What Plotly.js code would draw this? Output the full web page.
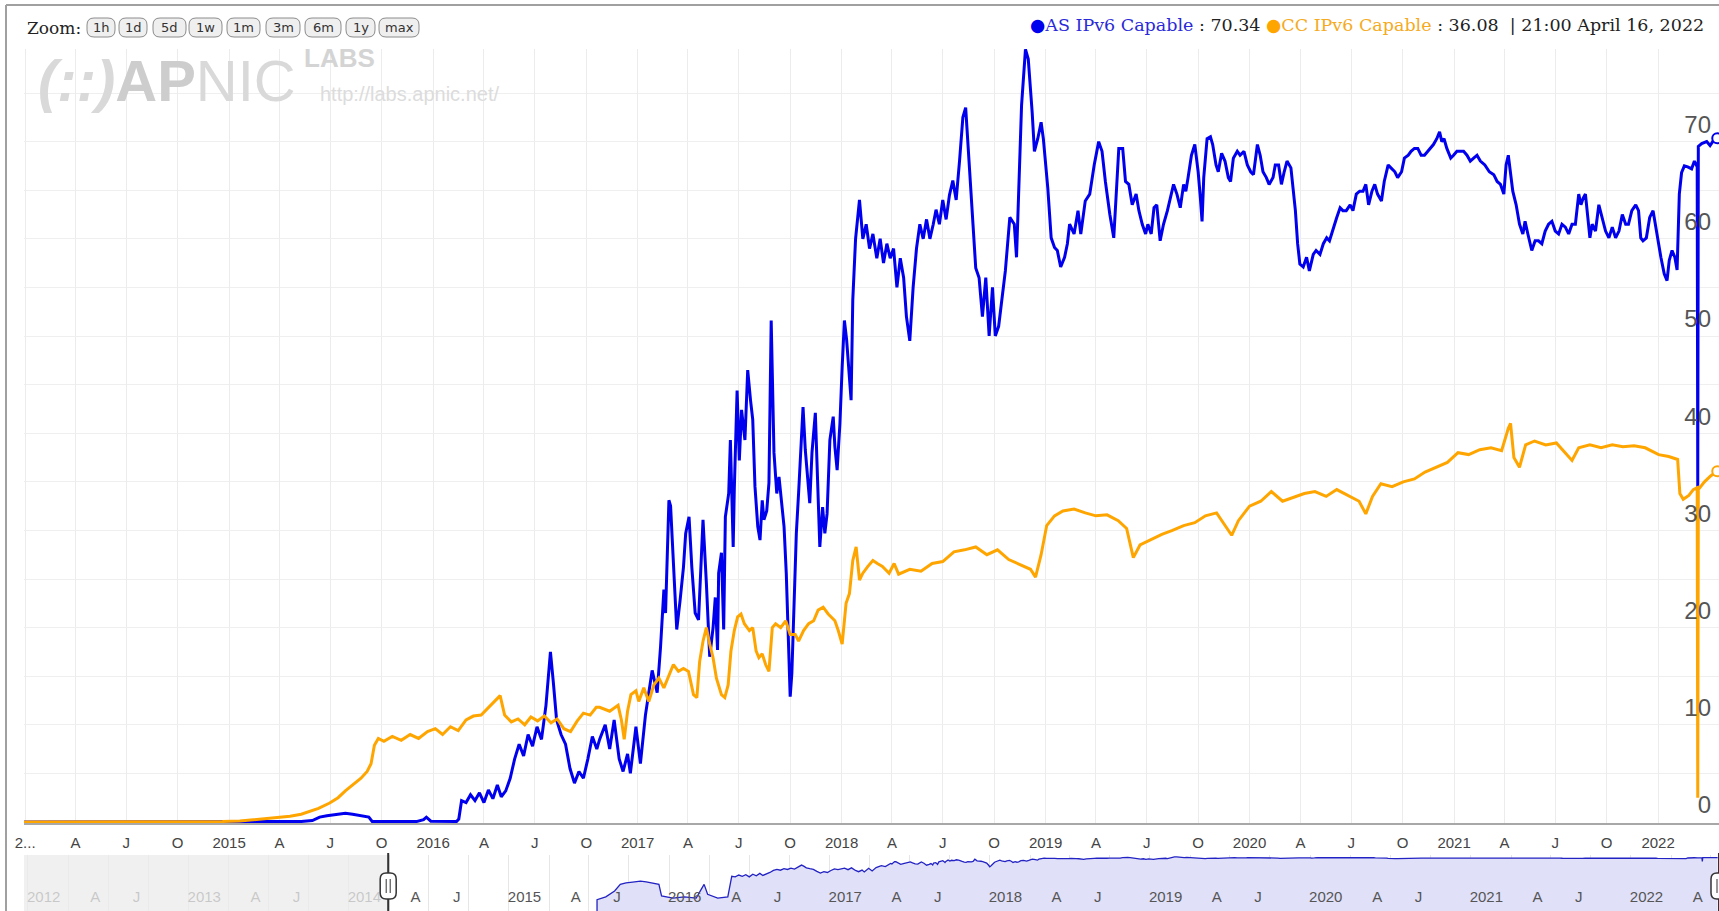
<!DOCTYPE html>
<html><head><meta charset="utf-8">
<script src="https://cdn.plot.ly/plotly-3.0.1.min.js"></script>
<style>html,body{margin:0;padding:0;background:#fff;overflow:hidden}#chart{width:1719px;height:911px}</style>
</head><body><div id="chart"></div>
<script>
// ---------------- data ----------------
const asDates = [
'2013-12-20','2015-04-15','2015-04-20','2015-05-10','2015-05-30','2015-06-12','2015-06-25','2015-07-10','2015-07-28','2015-08-10',
'2015-08-26','2015-09-08','2015-09-14','2015-10-10','2015-11-05','2015-12-02','2015-12-15','2015-12-20','2015-12-28','2016-01-20',
'2016-02-12','2016-02-16','2016-02-21','2016-02-29','2016-03-08','2016-03-16','2016-03-24','2016-04-01','2016-04-09','2016-04-17',
'2016-04-25','2016-05-02','2016-05-10','2016-05-18','2016-05-26','2016-06-03','2016-06-11','2016-06-19','2016-06-27','2016-07-05',
'2016-07-13','2016-07-21','2016-07-29','2016-08-03','2016-08-09','2016-08-17','2016-08-25','2016-09-02','2016-09-10','2016-09-18',
'2016-09-26','2016-10-04','2016-10-12','2016-10-20','2016-10-25','2016-11-04','2016-11-12','2016-11-20','2016-11-29','2016-12-06',
'2016-12-14','2016-12-19','2016-12-29','2017-01-06','2017-01-15','2017-01-27','2017-02-05','2017-02-11','2017-02-17','2017-02-20',
'2017-02-26','2017-03-01','2017-03-06','2017-03-12','2017-03-18','2017-03-24','2017-03-28','2017-04-03','2017-04-08','2017-04-14',
'2017-04-20','2017-04-28','2017-05-04','2017-05-10','2017-05-16','2017-05-20','2017-05-24','2017-05-26','2017-05-31','2017-06-04',
'2017-06-07','2017-06-13','2017-06-16','2017-06-19','2017-06-21','2017-06-23','2017-06-28','2017-07-02','2017-07-06','2017-07-12',
'2017-07-17','2017-07-22','2017-07-26','2017-07-30','2017-08-04','2017-08-08','2017-08-12','2017-08-15','2017-08-20','2017-08-24',
'2017-08-28','2017-09-02','2017-09-07','2017-09-11','2017-09-15','2017-09-20','2017-09-24','2017-09-28','2017-10-01','2017-10-04',
'2017-10-08','2017-10-12','2017-10-16','2017-10-20','2017-10-24','2017-10-28','2017-11-01','2017-11-05','2017-11-09','2017-11-15',
'2017-11-19','2017-11-23','2017-11-28','2017-12-02','2017-12-06','2017-12-11','2017-12-17','2017-12-20','2017-12-24','2017-12-29',
'2018-01-02','2018-01-06','2018-01-10','2018-01-15','2018-01-18','2018-01-21','2018-01-26','2018-02-02','2018-02-08','2018-02-14',
'2018-02-20','2018-02-26','2018-03-05','2018-03-11','2018-03-17','2018-03-23','2018-03-29','2018-04-04','2018-04-10','2018-04-16',
'2018-04-22','2018-04-27','2018-05-03','2018-05-09','2018-05-15','2018-05-21','2018-05-27','2018-06-02','2018-06-08','2018-06-14',
'2018-06-19','2018-06-25','2018-07-01','2018-07-07','2018-07-13','2018-07-19','2018-07-25','2018-07-31','2018-08-06','2018-08-11',
'2018-08-17','2018-08-23','2018-08-29','2018-09-04','2018-09-10','2018-09-16','2018-09-22','2018-09-28','2018-10-03','2018-10-09',
'2018-10-21','2018-10-29','2018-11-06','2018-11-10','2018-11-14','2018-11-19','2018-11-26','2018-12-01','2018-12-08','2018-12-12',
'2018-12-18','2018-12-24','2018-12-28','2019-01-05','2019-01-11','2019-01-17','2019-01-22','2019-01-28','2019-02-04','2019-02-09',
'2019-02-13','2019-02-21','2019-02-28','2019-03-05','2019-03-13','2019-03-21','2019-03-29','2019-04-06','2019-04-12','2019-04-18',
'2019-04-26','2019-05-03','2019-05-08','2019-05-12','2019-05-19','2019-05-24','2019-05-30','2019-06-05','2019-06-12','2019-06-17',
'2019-06-23','2019-06-29','2019-07-03','2019-07-09','2019-07-14','2019-07-19','2019-07-25','2019-07-31','2019-08-07','2019-08-12',
'2019-08-18','2019-08-24','2019-08-30','2019-09-05','2019-09-09','2019-09-13','2019-09-19','2019-09-25','2019-10-01','2019-10-05',
'2019-10-08','2019-10-11','2019-10-17','2019-10-23','2019-10-27','2019-11-02','2019-11-06','2019-11-12','2019-11-18','2019-11-24',
'2019-11-28','2019-12-03','2019-12-10','2019-12-15','2019-12-22','2019-12-28','2020-01-03','2020-01-08','2020-01-15','2020-01-20',
'2020-01-25','2020-01-31','2020-02-05','2020-02-12','2020-02-16','2020-02-22','2020-02-27','2020-03-03','2020-03-08','2020-03-15',
'2020-03-19','2020-03-23','2020-03-27','2020-03-31','2020-04-06','2020-04-12','2020-04-17','2020-04-24','2020-04-29','2020-05-06',
'2020-05-12','2020-05-18','2020-05-23','2020-05-30','2020-06-05','2020-06-11','2020-06-16','2020-06-22','2020-06-29','2020-07-04',
'2020-07-10','2020-07-16','2020-07-22','2020-07-27','2020-08-01','2020-08-07','2020-08-12','2020-08-17','2020-08-24','2020-08-29',
'2020-09-05','2020-09-10','2020-09-17','2020-09-22','2020-09-29','2020-10-04','2020-10-11','2020-10-16','2020-10-22','2020-10-28',
'2020-11-03','2020-11-09','2020-11-15','2020-11-20','2020-11-25','2020-12-01','2020-12-06','2020-12-10','2020-12-14','2020-12-19',
'2020-12-26','2020-12-31','2021-01-06','2021-01-12','2021-01-18','2021-01-24','2021-01-30','2021-02-05','2021-02-11','2021-02-17',
'2021-02-25','2021-03-05','2021-03-13','2021-03-19','2021-03-25','2021-03-31','2021-04-04','2021-04-08','2021-04-12','2021-04-16',
'2021-04-22','2021-04-28','2021-05-04','2021-05-08','2021-05-13','2021-05-20','2021-05-26','2021-06-01','2021-06-07','2021-06-13',
'2021-06-19','2021-06-25','2021-07-01','2021-07-07','2021-07-13','2021-07-19','2021-07-25','2021-07-31','2021-08-06','2021-08-12',
'2021-08-16','2021-08-20','2021-08-24','2021-08-28','2021-09-01','2021-09-05','2021-09-11','2021-09-17','2021-09-23','2021-09-29',
'2021-10-05','2021-10-11','2021-10-17','2021-10-23','2021-10-29','2021-11-04','2021-11-09','2021-11-15','2021-11-22','2021-11-27',
'2021-12-01','2021-12-05','2021-12-11','2021-12-17','2021-12-23','2021-12-27','2022-01-01','2022-01-06','2022-01-12','2022-01-17',
'2022-01-21','2022-01-26','2022-01-31','2022-02-04','2022-02-08','2022-02-12','2022-02-17','2022-02-23','2022-03-02','2022-03-07',
'2022-03-12','2022-03-13','2022-03-14','2022-03-20','2022-03-29','2022-04-04','2022-04-10','2022-04-16 21:00'
];
const asValues = [
0,0,0.03,0.05,0.15,0.5,0.65,0.75,0.9,0.8,
0.6,0.5,0.06,0.04,0.05,0.04,0.25,0.5,0.08,0.04,
0.05,0.3,2.2,2.0,2.8,2.2,3.0,2.0,3.3,2.4,
3.8,2.6,3.2,4.5,6.5,8.0,6.8,9.0,7.8,9.8,
8.5,12.0,17.5,14.5,10.5,9.0,8.0,5.5,4.0,5.2,
4.5,6.5,8.8,7.5,8.5,10.0,7.5,10.5,6.5,5.2,
7.0,5.0,9.8,6.0,11,15.6,13.3,18,23.9,21.5,
33.1,32.5,26.2,19.8,22.8,26.2,29.7,31.4,26.2,21.5,
20.8,31.1,24.6,17,20,23.1,17.7,25.6,27.7,19.8,
31.4,33.8,39.3,33.1,28.3,34.2,44.4,37.2,42.4,39.3,
46.5,43.4,41.4,34.5,30.4,29,33.1,31.1,32,34.9,
51.6,38,33.8,35.5,33.1,30.4,25.6,17.7,12.9,15.3,
22.8,29.7,33.8,39,42.7,38.3,35.2,32.8,38,42.1,
35.2,28.3,32.4,29.7,31.7,39.3,41.7,38.6,36.2,41,
46.8,51.6,49.6,45.8,43.4,53.7,60,64,60,61.5,
59,60.5,58,60,57.5,59.5,58,59,55,58,
56,52,49.5,55,59,61.5,60,62,60,61.5,
63,61.5,64,62,64.5,66,64,68,72.5,73.5,
68,62,57,56,52,56,50,55,50,51,
56.7,62.2,61.5,58.1,64.2,73.7,79.5,78.5,73,69,
70.3,72,70.3,65.2,60.1,59.1,58.8,57.1,58.1,59.5,
61.5,60.5,62.9,60.5,63.9,64.6,67.6,70,69,65.9,
62.5,60.1,65.2,69.3,69.3,65.9,65.6,63.5,64.6,62.9,
61.5,60.5,61.5,60.5,63.2,63.5,59.8,61.5,62.9,64.2,
65.6,64.6,63.2,65.6,64.9,66.3,68.6,69.7,66.9,64.2,
61.8,66.3,70.3,70.5,69.7,67.6,66.9,68.8,68,66.3,
65.9,68.3,69,68.6,69,67.6,66.9,66.6,69.7,68.6,
66.9,66.3,65.6,66.3,67.6,67.6,65.6,66.9,68,67.3,
65.2,62.9,59.5,57.4,57.1,58.1,56.7,58.4,58.8,58.4,
59.5,60.1,59.8,61.2,62.2,63.2,62.9,62.9,63.5,62.9,
64.6,64.9,64.9,65.6,63.5,64.9,65.6,64.6,63.9,65.9,
67.6,67.3,66.9,66.3,66.9,68.3,68.6,69,69.3,69.3,
68.6,68.6,69,69.3,69.7,70.3,71,70,70.3,69.3,
68.3,68.6,69,69,69,68.6,68,68.3,68.6,68,
67.6,66.9,66.6,65.9,65.6,64.6,67.6,68.6,66.9,64.9,
63.5,61.5,60.5,61.8,60.5,58.8,59.8,59.8,59.5,60.8,
61.5,61.8,60.8,60.5,61.5,61.2,60.5,61.5,61.5,64.6,
63.5,64.2,64.6,62.5,60.1,61.5,60.8,63.5,62.2,60.8,
60.1,61.2,60.1,60.8,62.5,61.5,61.5,62.9,63.5,62.9,
60.1,59.8,60.1,62.2,62.9,61.5,59.5,58.1,56.4,55.7,
57.8,58.8,58.1,56.8,64.6,66.8,67.5,67.4,67.2,68,
67.4,34.5,69.5,69.8,70,69.6,70.1,70.34
];
const ccDates = [
'2013-12-20','2014-11-25','2014-12-20','2015-01-20','2015-02-20','2015-03-20','2015-04-20','2015-05-10','2015-05-25','2015-06-10',
'2015-06-30','2015-07-15','2015-07-28','2015-08-10','2015-08-25','2015-09-05','2015-09-12','2015-09-18','2015-09-25','2015-10-05',
'2015-10-20','2015-11-05','2015-11-21','2015-12-06','2015-12-22','2016-01-05','2016-01-18','2016-02-01','2016-02-15','2016-02-29',
'2016-03-13','2016-03-27','2016-04-10','2016-04-22','2016-04-30','2016-05-08','2016-05-20','2016-06-01','2016-06-13','2016-06-24',
'2016-07-06','2016-07-18','2016-07-30','2016-08-10','2016-08-22','2016-09-03','2016-09-15','2016-09-26','2016-10-08','2016-10-19',
'2016-10-25','2016-11-12','2016-11-27','2016-12-03','2016-12-08','2016-12-14','2016-12-20','2016-12-29','2017-01-03','2017-01-12',
'2017-01-21','2017-01-30','2017-02-08','2017-02-17','2017-02-26','2017-03-06','2017-03-15','2017-03-24','2017-04-02','2017-04-11',
'2017-04-17','2017-04-22','2017-04-28','2017-05-04','2017-05-10','2017-05-16','2017-05-22','2017-05-31','2017-06-06','2017-06-12',
'2017-06-17','2017-06-23','2017-06-29','2017-07-05','2017-07-11','2017-07-20','2017-07-26','2017-08-01','2017-08-06','2017-08-12',
'2017-08-18','2017-08-24','2017-08-30','2017-09-05','2017-09-14','2017-09-23','2017-10-01','2017-10-10','2017-10-16','2017-10-25',
'2017-11-03','2017-11-12','2017-11-20','2017-11-29','2017-12-08','2017-12-14','2017-12-20','2017-12-26','2018-01-02','2018-01-09',
'2018-01-15','2018-01-21','2018-01-27','2018-02-02','2018-02-08','2018-02-17','2018-02-26','2018-03-06','2018-03-15','2018-03-27',
'2018-04-05','2018-04-13','2018-05-03','2018-05-23','2018-06-12','2018-07-01','2018-07-21','2018-08-09','2018-08-29','2018-09-18',
'2018-10-07','2018-10-27','2018-11-15','2018-12-05','2018-12-14','2018-12-24','2019-01-03','2019-01-17','2019-02-01','2019-02-21',
'2019-03-13','2019-04-01','2019-04-21','2019-05-11','2019-05-26','2019-06-07','2019-06-19','2019-07-08','2019-07-28','2019-08-16',
'2019-09-05','2019-09-25','2019-10-14','2019-11-03','2019-11-18','2019-11-30','2019-12-12','2020-01-01','2020-01-21','2020-02-09',
'2020-02-29','2020-03-19','2020-04-08','2020-04-27','2020-05-17','2020-06-05','2020-06-25','2020-07-15','2020-07-27','2020-08-08',
'2020-08-23','2020-09-12','2020-10-02','2020-10-22','2020-11-10','2020-11-30','2020-12-20','2021-01-08','2021-01-27','2021-02-16',
'2021-03-08','2021-03-27','2021-04-08','2021-04-12','2021-04-18','2021-04-28','2021-05-09','2021-05-25','2021-06-14','2021-07-03',
'2021-07-19','2021-07-31','2021-08-12','2021-09-01','2021-09-21','2021-10-11','2021-10-30','2021-11-19','2021-12-09','2021-12-25',
'2022-01-02','2022-01-20','2022-02-05','2022-02-09','2022-02-15','2022-02-25','2022-03-05','2022-03-12','2022-03-13','2022-03-14',
'2022-03-25','2022-04-05','2022-04-16 21:00'
];
const ccValues = [
0,0,0.05,0.1,0.25,0.4,0.6,0.8,1.1,1.4,
1.95,2.5,3.2,3.8,4.5,5.2,6.0,7.9,8.6,8.3,
8.8,8.4,9.0,8.6,9.3,9.6,9.0,9.8,9.4,10.5,
10.9,11.0,11.8,12.5,13.0,11.0,10.3,10.6,10.0,10.8,
10.4,10.9,10.2,10.6,9.6,9.3,10.4,11.2,11.0,11.8,
11.8,11.4,12.0,10.5,8.5,11.4,13.1,13.5,12.4,13.8,
12.4,14.1,14.8,13.8,15.1,16.2,15.5,15.8,15.5,13.1,
12.8,16.5,18.6,20.0,18.3,16.9,14.8,13.1,12.8,14.1,
17.6,19.7,21.1,21.4,20.4,19.7,20.0,17.6,16.9,17.3,
16.2,15.5,20.0,20.4,20.0,20.7,19.3,19.3,18.6,19.7,
20.4,20.7,21.8,22.1,21.4,21.1,20.7,19.7,18.3,22.5,
23.5,26.9,28.3,24.9,25.6,26.3,26.9,26.6,26.3,25.6,
26.6,25.5,26.0,25.8,26.6,26.8,27.8,28.0,28.3,27.5,
28.0,27.0,26.5,26.0,25.2,27.5,30.5,31.5,32.0,32.2,
31.8,31.5,31.6,31.0,30.2,27.2,28.5,29.0,29.6,30.0,
30.5,30.8,31.5,31.8,30.5,29.5,31.0,32.5,33.0,34.0,
33.0,33.4,33.8,34.0,33.5,34.2,33.6,33.0,31.7,33.5,
34.8,34.5,35.0,35.3,36.0,36.5,37.0,38.0,37.8,38.3,
38.5,38.2,40.5,41.0,37.5,36.5,38.8,39.2,38.8,39.0,
38.0,37.2,38.5,38.8,38.5,38.8,38.6,38.7,38.5,38.0,
37.8,37.6,37.3,33.8,33.2,33.6,34.2,34.4,2.5,34.2,
35.0,35.6,36.08
];
const lastStampLabel = '21:00 April 16, 2022';

// ---------------- axes / ticks ----------------
const mainRange = ['2013-12-30', '2022-04-20'];
const navRange = ['2011-09-22', '2022-04-20'];
const mainTickDates = [
'2014-01-01','2014-04-01','2014-07-01','2014-10-01','2015-01-01','2015-04-01','2015-07-01','2015-10-01',
'2016-01-01','2016-04-01','2016-07-01','2016-10-01','2017-01-01','2017-04-01','2017-07-01','2017-10-01',
'2018-01-01','2018-04-01','2018-07-01','2018-10-01','2019-01-01','2019-04-01','2019-07-01','2019-10-01',
'2020-01-01','2020-04-01','2020-07-01','2020-10-01','2021-01-01','2021-04-01','2021-07-01','2021-10-01','2022-01-01'];
const mainTickText = [
'2...','A','J','O','2015','A','J','O','2016','A','J','O','2017','A','J','O',
'2018','A','J','O','2019','A','J','O','2020','A','J','O','2021','A','J','O','2022'];
const mainYearDates = ['2014-01-01','2015-01-01','2016-01-01','2017-01-01','2018-01-01','2019-01-01','2020-01-01','2021-01-01','2022-01-01'];
const navTickDates = [
'2011-10-01','2012-01-01','2012-04-01','2012-07-01','2012-10-01','2013-01-01','2013-04-01','2013-07-01','2013-10-01',
'2014-01-01','2014-04-01','2014-07-01','2014-10-01','2015-01-01','2015-04-01','2015-07-01','2015-10-01',
'2016-01-01','2016-04-01','2016-07-01','2016-10-01','2017-01-01','2017-04-01','2017-07-01','2017-10-01',
'2018-01-01','2018-04-01','2018-07-01','2018-10-01','2019-01-01','2019-04-01','2019-07-01','2019-10-01',
'2020-01-01','2020-04-01','2020-07-01','2020-10-01','2021-01-01','2021-04-01','2021-07-01','2021-10-01',
'2022-01-01','2022-04-01'];
const navTickText = [
'','2012','A','J','','2013','A','J','','2014','A','J','','2015','A','J','',
'2016','A','J','','2017','A','J','','2018','A','J','','2019','A','J','',
'2020','A','J','','2021','A','J','','2022','A'];
const navYearDates = ['2012-01-01','2013-01-01','2014-01-01','2015-01-01','2016-01-01','2017-01-01','2018-01-01','2019-01-01','2020-01-01','2021-01-01','2022-01-01'];
const yTickValues = [0, 10, 20, 30, 40, 50, 60, 70];
const yMinorValues = [5, 15, 25, 35, 45, 55, 65, 75];
const yTickText = ['0', '10', '20', '30', '40', '50', '60', '70'];
const zoomLabels = ['1h', '1d', '5d', '1w', '1m', '3m', '6m', '1y', 'max'];

// ---------------- styling helpers ----------------
const W = 1719, H = 911;
const px = v => v / W;
const py = v => 1 - v / H;
const BLUE = '#0000ee', ORANGE = '#ffa500';
const SANS = 'Liberation Sans, Arial, sans-serif';
const SERIF = 'DejaVu Serif, serif';
function roundRect(w, h, r) {
  const a = w / 2, b = h / 2;
  return `M ${-a + r},${-b} L ${a - r},${-b} Q ${a},${-b} ${a},${-b + r} L ${a},${b - r} Q ${a},${b} ${a - r},${b} ` +
         `L ${-a + r},${b} Q ${-a},${b} ${-a},${b - r} L ${-a},${-b + r} Q ${-a},${-b} ${-a + r},${-b} Z`;
}
const btnCenters = [101, 133, 169.5, 205.5, 243.5, 283, 323, 360.5, 399];
const btnWidths = [28, 28, 33, 33, 33, 34, 36, 29, 40];
const btnY = 27.5, btnH = 19;

const lastAs = asValues[asValues.length - 1];
const lastCc = ccValues[ccValues.length - 1];

// ---------------- traces ----------------
const traces = [
  { x: asDates, y: asValues, type: 'scatter', mode: 'lines', xaxis: 'x', yaxis: 'y',
    line: { color: BLUE, width: 3 }, hoverinfo: 'x+y', name: 'AS IPv6 Capable' },
  { x: ccDates, y: ccValues, type: 'scatter', mode: 'lines', xaxis: 'x', yaxis: 'y',
    line: { color: ORANGE, width: 3 }, hoverinfo: 'x+y', name: 'CC IPv6 Capable' },
  { x: [asDates[asDates.length - 1]], y: [lastAs], type: 'scatter', mode: 'markers', xaxis: 'x', yaxis: 'y',
    marker: { color: '#ffffff', size: 10, line: { color: BLUE, width: 2 } }, cliponaxis: false, hoverinfo: 'skip' },
  { x: [ccDates[ccDates.length - 1]], y: [lastCc], type: 'scatter', mode: 'markers', xaxis: 'x', yaxis: 'y',
    marker: { color: '#ffffff', size: 10, line: { color: ORANGE, width: 2 } }, cliponaxis: false, hoverinfo: 'skip' },
  { x: asDates, y: asValues, type: 'scatter', mode: 'lines', xaxis: 'x2', yaxis: 'y2',
    line: { color: '#2323c4', width: 1.3 }, fill: 'tozeroy', fillcolor: '#e0e0f8', hoverinfo: 'skip' }
];

// ---------------- shapes ----------------
const shapes = [];
shapes.push({ type: 'line', xref: 'paper', yref: 'paper', x0: px(6), x1: px(6), y0: 0, y1: py(5), line: { color: '#a0a0a0', width: 2 } });
shapes.push({ type: 'line', xref: 'paper', yref: 'paper', x0: px(6), x1: 1, y0: py(5), y1: py(5), line: { color: '#a0a0a0', width: 2 } });
zoomLabels.forEach((t, i) => {
  shapes.push({ type: 'path', xref: 'paper', yref: 'paper', xsizemode: 'pixel', ysizemode: 'pixel',
    xanchor: px(btnCenters[i]), yanchor: py(btnY), path: roundRect(btnWidths[i], btnH, 7),
    fillcolor: '#efefef', line: { color: '#8c8c8c', width: 1 } });
});
shapes.push({ type: 'rect', xref: 'x2', yref: 'paper', x0: navRange[0], x1: mainRange[0], y0: 0, y1: py(855),
  fillcolor: 'rgba(235,235,235,0.77)', line: { width: 0 }, layer: 'above' });
[mainRange[0], mainRange[1]].forEach(d => {
  shapes.push({ type: 'line', xref: 'x2', yref: 'paper', x0: d, x1: d, y0: 0, y1: py(853),
    line: { color: '#333333', width: 2 }, layer: 'above' });
  shapes.push({ type: 'path', xref: 'x2', yref: 'paper', xsizemode: 'pixel', ysizemode: 'pixel',
    xanchor: d, yanchor: py(886), path: roundRect(16, 26, 6), fillcolor: '#ffffff',
    line: { color: '#333333', width: 1.5 }, layer: 'above' });
  shapes.push({ type: 'path', xref: 'x2', yref: 'paper', xsizemode: 'pixel', ysizemode: 'pixel',
    xanchor: d, yanchor: py(886), path: 'M -2,-7 L -2,7 M 2,-7 L 2,7',
    line: { color: '#333333', width: 1 }, layer: 'above' });
});

// ---------------- annotations ----------------
const annotations = [];
annotations.push({ xref: 'paper', yref: 'paper', x: px(36), y: py(80), xanchor: 'left', yanchor: 'middle', showarrow: false,
  text: '<b><i>(::)</i></b><b><span style="color:#cdcdcd">AP</span></b>NIC',
  font: { family: SANS, size: 58, color: '#d9d9d9' } });
annotations.push({ xref: 'paper', yref: 'paper', x: px(302), y: py(58), xanchor: 'left', yanchor: 'middle', showarrow: false,
  text: '<b>LABS</b>', font: { family: SANS, size: 26, color: '#d4d4d4' } });
annotations.push({ xref: 'paper', yref: 'paper', x: px(318), y: py(94), xanchor: 'left', yanchor: 'middle', showarrow: false,
  text: 'http://labs.apnic.net/', font: { family: SANS, size: 20, color: '#dcdcdc' } });
annotations.push({ xref: 'paper', yref: 'paper', x: px(25), y: py(28), xanchor: 'left', yanchor: 'middle', showarrow: false,
  text: 'Zoom:', font: { family: SERIF, size: 17, color: '#222' } });
zoomLabels.forEach((t, i) => {
  annotations.push({ xref: 'paper', yref: 'paper', x: px(btnCenters[i]), y: py(btnY), xanchor: 'center', yanchor: 'middle',
    showarrow: false, text: t, font: { family: 'DejaVu Sans, sans-serif', size: 13, color: '#333' } });
});
annotations.push({ xref: 'paper', yref: 'paper', x: px(1706), y: py(25), xanchor: 'right', yanchor: 'middle', showarrow: false,
  text: `<span style="color:${BLUE}">●</span><span style="color:#2a2ad8">AS IPv6 Capable</span> : ${lastAs.toFixed(2)} ` +
        `<span style="color:${ORANGE}">●</span><span style="color:#f5aa22">CC IPv6 Capable</span> : ${lastCc.toFixed(2)}  | ${lastStampLabel}`,
  font: { family: SERIF, size: 17.5, color: '#222' } });

// ---------------- layout ----------------
const layout = {
  width: W, height: H, margin: { l: 0, r: 0, t: 0, b: 0 },
  paper_bgcolor: '#ffffff', plot_bgcolor: 'rgba(0,0,0,0)', showlegend: false,
  font: { family: SANS },
  xaxis: { domain: [px(24), 1], anchor: 'y', type: 'date', range: mainRange,
    tickmode: 'array', tickvals: mainTickDates, ticktext: mainTickText,
    showgrid: true, gridcolor: '#ececec', gridwidth: 1, zeroline: false,
    showline: true, linecolor: '#a8a8a8', linewidth: 1.5, ticks: '',
    ticklabelstandoff: 5, tickfont: { family: SANS, size: 15, color: '#444' }, fixedrange: true },
  xaxis3: { overlaying: 'x', anchor: 'y', type: 'date', range: mainRange,
    tickmode: 'array', tickvals: mainYearDates, showticklabels: false,
    showgrid: true, gridcolor: '#d6d6d6', zeroline: false, showline: false, ticks: '', fixedrange: true },
  yaxis: { domain: [py(823), py(49)], anchor: 'x', range: [-0.103, 79.53], side: 'right',
    tickmode: 'array', tickvals: yTickValues, ticktext: yTickText, ticklabelposition: 'inside',
    ticklabelshift: -17, ticklabelstandoff: 5,
    showgrid: true, gridcolor: '#efefef', zeroline: false, showline: false, ticks: '',
    minor: { tickmode: 'array', tickvals: yMinorValues, showgrid: true, gridcolor: '#efefef', ticks: '' },
    tickfont: { family: SANS, size: 24, color: '#555' }, fixedrange: true },
  xaxis2: { domain: [px(24), 1], anchor: 'y2', type: 'date', range: navRange,
    tickmode: 'array', tickvals: navTickDates, ticktext: navTickText, ticklabelposition: 'inside left',
    ticklabelshift: -8,
    showgrid: true, gridcolor: '#e6e6e6', zeroline: false, showline: false, ticks: '',
    tickfont: { family: SANS, size: 15, color: '#555' }, fixedrange: true },
  xaxis4: { overlaying: 'x2', anchor: 'y2', type: 'date', range: navRange,
    tickmode: 'array', tickvals: navYearDates, showticklabels: false,
    showgrid: true, gridcolor: '#cdcdcd', zeroline: false, showline: false, ticks: '', fixedrange: true },
  yaxis2: { domain: [0, py(855)], anchor: 'x2', type: 'log', range: [-2.43, 2.05],
    showgrid: false, showticklabels: false, zeroline: false, showline: false, ticks: '', fixedrange: true },
  shapes: shapes,
  annotations: annotations,
  hovermode: 'closest'
};

Plotly.newPlot('chart', traces, layout, { displayModeBar: false });
</script>
</body></html>
